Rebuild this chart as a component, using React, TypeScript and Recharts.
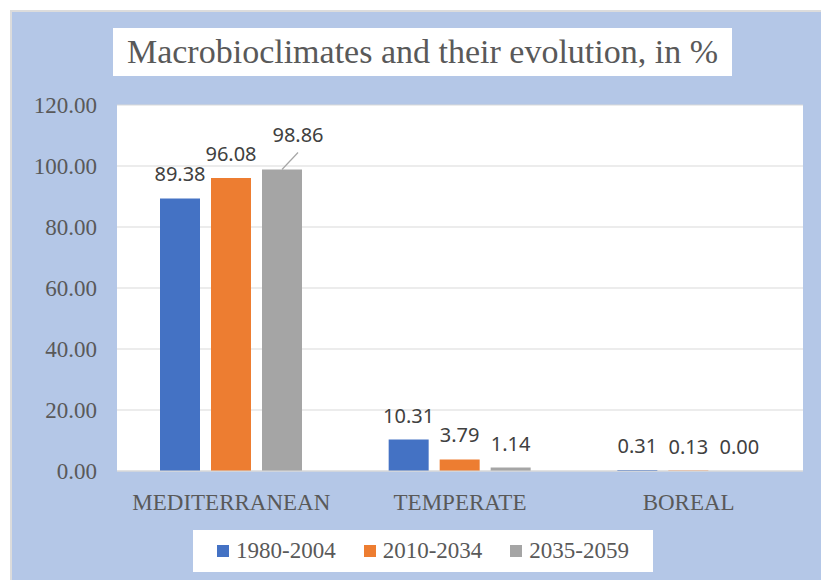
import { Bar, BarChart, CartesianGrid, LabelList, XAxis, YAxis } from 'recharts'

const categories = ['MEDITERRANEAN', 'TEMPERATE', 'BOREAL']
const values1980 = [89.38, 10.31, 0.31]
const values2010 = [96.08, 3.79, 0.13]
const values2035 = [98.86, 1.14, 0.0]
const yTicks = [0, 20, 40, 60, 80, 100, 120]

const series = [
  { key: '1980-2004', values: values1980, color: '#4472C4' },
  { key: '2010-2034', values: values2010, color: '#ED7D31' },
  { key: '2035-2059', values: values2035, color: '#A5A5A5' },
]

const data = categories.map((name, i) => {
  const row: Record<string, string | number> = { name }
  series.forEach((s) => {
    row[s.key] = s.values[i]
  })
  return row
})

const serif = "'Liberation Serif', 'DejaVu Serif', Times, serif"
const sans = "'Noto Sans', 'Open Sans', sans-serif"
const textGrey = '#595959'

function valueLabel(seriesKey: string) {
  return (props: any) => {
    const cx = Number(props.x) + Number(props.width) / 2
    const top = Number(props.y)
    const text = Number(props.value).toFixed(2)
    const style = { fontFamily: sans, fontSize: 20, fill: '#404040' }
    // the tallest label got pushed aside in the original, with a leader line
    if (seriesKey === '2035-2059' && props.index === 0) {
      return (
        <g>
          <line x1={cx} y1={top} x2={cx + 16} y2={top - 17} stroke="#A6A6A6" strokeWidth={1.2} />
          <text x={cx + 16} y={top - 27} textAnchor="middle" style={style}>
            {text}
          </text>
        </g>
      )
    }
    return (
      <text x={cx} y={top - 17} textAnchor="middle" style={style}>
        {text}
      </text>
    )
  }
}

export default function App() {
  return (
    <div style={{ position: 'fixed', left: 0, top: 0, width: 821, height: 580, background: '#fff', overflow: 'hidden' }}>
      <div
        style={{
          position: 'absolute',
          left: 10,
          top: 10,
          width: 820,
          height: 580,
          boxSizing: 'border-box',
          background: '#B4C7E7',
          border: '2px solid #DCDCDC',
        }}
      />
      <div
        style={{
          position: 'absolute',
          left: 113,
          top: 28,
          width: 619,
          height: 48,
          background: '#fff',
          display: 'flex',
          alignItems: 'center',
          justifyContent: 'center',
          fontFamily: serif,
          fontSize: 34,
          color: textGrey,
          whiteSpace: 'nowrap',
        }}
      >
        Macrobioclimates and their evolution, in %
      </div>
      <div style={{ position: 'absolute', left: 0, top: 0 }}>
        <BarChart
          width={821}
          height={580}
          data={data}
          margin={{ top: 105, right: 18, bottom: 79, left: 0 }}
          barSize={40}
          barGap={11}
        >
          <CartesianGrid vertical={false} stroke="#D9D9D9" fill="#fff" />
          <XAxis
            dataKey="name"
            height={30}
            tickLine={false}
            axisLine={{ stroke: '#D9D9D9' }}
            tickMargin={17}
            tick={{ fontSize: 23, fill: textGrey, style: { fontFamily: serif } }}
          />
          <YAxis
            width={117}
            domain={[0, 120]}
            ticks={yTicks}
            tickLine={false}
            axisLine={false}
            tickMargin={14}
            tickFormatter={(v: number) => v.toFixed(2)}
            tick={{ fontSize: 23, fill: textGrey, style: { fontFamily: serif } }}
          />
          {series.map((s) => (
            <Bar key={s.key} dataKey={s.key} fill={s.color} minPointSize={0.01} isAnimationActive={false}>
              <LabelList dataKey={s.key} content={valueLabel(s.key)} />
            </Bar>
          ))}
        </BarChart>
      </div>
      <div
        style={{
          position: 'absolute',
          left: 193,
          top: 530,
          width: 460,
          height: 42,
          background: '#fff',
          display: 'flex',
          alignItems: 'center',
          justifyContent: 'center',
          gap: 28,
          fontFamily: serif,
          fontSize: 23,
          color: textGrey,
        }}
      >
        {series.map((s) => (
          <span key={s.key} style={{ display: 'inline-flex', alignItems: 'center', gap: 7 }}>
            <span style={{ width: 12, height: 12, background: s.color, display: 'inline-block' }} />
            {s.key}
          </span>
        ))}
      </div>
    </div>
  )
}
